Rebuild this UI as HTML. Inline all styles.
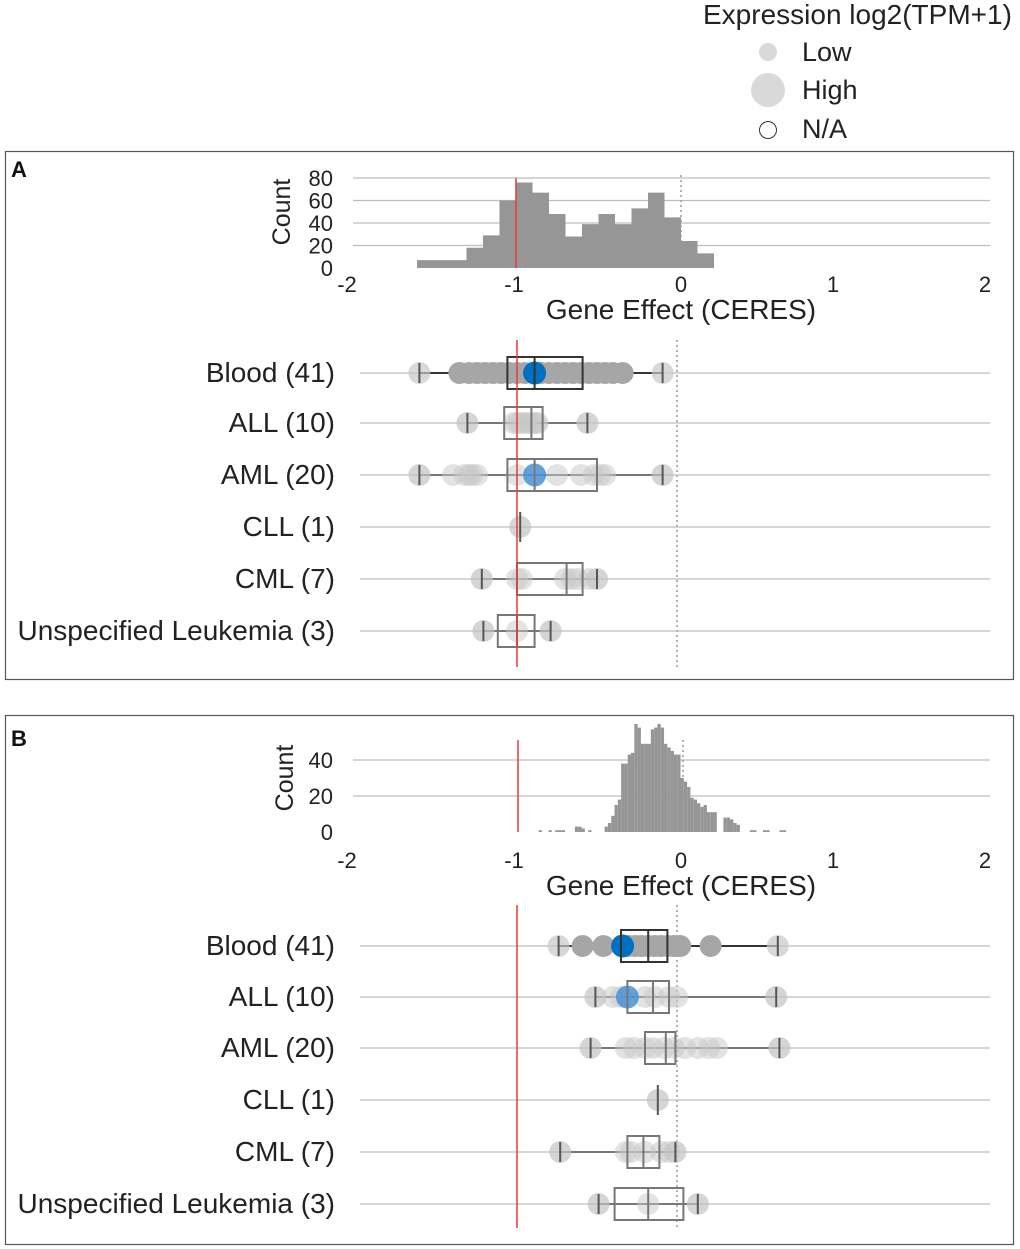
<!DOCTYPE html>
<html><head><meta charset="utf-8">
<style>
body{margin:0;background:#fff;}
svg{display:block;font-family:"Liberation Sans",Arial,sans-serif;}
</style></head>
<body>
<svg id="chart" width="1020" height="1249" viewBox="0 0 1020 1249" xmlns="http://www.w3.org/2000/svg">
  <g>
    <text x="703" y="24" font-size="28" fill="#222">Expression log2(TPM+1)</text>
    <circle cx="768" cy="52" r="9" fill="#d9d9d9"/>
    <text x="802" y="61" font-size="27" fill="#222">Low</text>
    <circle cx="768" cy="90" r="17" fill="#d9d9d9"/>
    <text x="802" y="99" font-size="27" fill="#222">High</text>
    <circle cx="768" cy="130" r="8.5" fill="#fff" stroke="#333" stroke-width="1"/>
    <text x="802" y="138" font-size="27" fill="#222">N/A</text>
  </g>
  <rect x="5.5" y="151.5" width="1008" height="528" fill="none" stroke="#555" stroke-width="1.2"/>
  <text x="11" y="177" font-size="22" font-weight="bold" fill="#111">A</text>
  <rect x="5.5" y="715.5" width="1008" height="529" fill="none" stroke="#555" stroke-width="1.2"/>
  <text x="11" y="746" font-size="22" font-weight="bold" fill="#111">B</text>
  <g id="pa"></g>
  <g id="pb"></g>
</svg>
<script>
// ---- shared ----
const rowLabels = ["Blood (41)","ALL (10)","AML (20)","CLL (1)","CML (7)","Unspecified Leukemia (3)"];
const xTicks = [-2,-1,0,1,2];
// ---- panel A data ----
const histA_start = -1.6, histA_width = 0.1;
const histA_counts = [7,7,7,18,29,60,76,67,48,28,39,48,39,53,67,45,24,13];
const yTicksA = [0,20,40,60,80];
const aMin = [-1.61,-1.31,-1.61,-0.98,-1.22,-1.21];
const aQ1  = [-1.06,-1.08,-1.06,-0.98,-1.0,-1.12];
const aMed = [-0.89,-0.91,-0.89,-0.98,-0.69,-1.0];
const aQ3  = [-0.59,-0.84,-0.5,-0.98,-0.59,-0.89];
const aMax = [-0.09,-0.56,-0.09,-0.98,-0.5,-0.79];
const aPts = [
 [-1.61,-1.36,-1.3,-1.25,-1.2,-1.15,-1.1,-1.05,-1.0,-0.95,-0.85,-0.8,-0.75,-0.7,-0.65,-0.6,-0.55,-0.5,-0.45,-0.4,-0.34,-0.09],
 [-1.31,-1.02,-1.0,-0.98,-0.95,-0.93,-0.9,-0.88,-0.87,-0.56],
 [-1.61,-1.4,-1.33,-1.3,-1.28,-1.25,-1.0,-0.75,-0.6,-0.52,-0.48,-0.45,-0.09],
 [-0.98],
 [-1.22,-1.0,-0.97,-0.7,-0.66,-0.62,-0.55,-0.5],
 [-1.21,-1.0,-0.79]];
const aHigh = [-0.89,null,-0.89,null,null,null];
// ---- panel B data ----
const histB_start = -0.875, histB_width = 0.02;
const histB_counts = [1,0,0,1,0,1,1,1,0,0,0,3,3,2,0,1,0,0,0,0,
 3,5,9,15,18,38,38,43,44,60,58,49,49,49,57,58,60,58,49,47,45,43,43,30,28,25,19,18,16,14,15,11,11,11,0,0,8,8,7,5,4,
 0,0,0,1,1,0,0,1,1,0,0,0,1,1];
const yTicksB = [0,20,40];
const bMin = [-0.74,-0.51,-0.54,-0.12,-0.73,-0.49];
const bQ1  = [-0.35,-0.31,-0.2,-0.12,-0.31,-0.39];
const bMed = [-0.18,-0.15,-0.07,-0.12,-0.21,-0.18];
const bQ3  = [-0.06,-0.05,-0.01,-0.12,-0.11,0.04];
const bMax = [0.63,0.62,0.64,-0.12,-0.01,0.13];
const bPts = [
 [-0.74,-0.59,-0.46,-0.3,-0.26,-0.22,-0.18,-0.14,-0.1,-0.06,-0.02,0.02,0.21,0.63],
 [-0.51,-0.4,-0.35,-0.2,-0.14,-0.05,0.0,0.62],
 [-0.54,-0.32,-0.27,-0.2,-0.15,-0.08,-0.02,0.05,0.13,0.2,0.25,0.64],
 [-0.12],
 [-0.73,-0.32,-0.29,-0.2,-0.1,-0.05,-0.01],
 [-0.49,-0.18,0.13]];
const bHigh = [-0.34,-0.31,null,null,null,null];

const NS="http://www.w3.org/2000/svg";
function mk(parent,tag,attrs){const e=document.createElementNS(NS,tag);for(const k in attrs)e.setAttribute(k,attrs[k]);parent.appendChild(e);return e;}
function x(v){return 677+160*v;}
function tickX(v){return v<=0?681+167*v:681+152*v;}

function drawPanel(g,cfg){
  const hx=cfg.hx;
  cfg.yTicks.forEach(t=>{
    const yy=cfg.hy(t);
    if(t>0){const l=mk(g,'line',{x1:353,x2:990,y1:yy,y2:yy,stroke:'#bdbdbd','stroke-width':1.3});
    
    }
    const tx=mk(g,'text',{x:333,y:yy+8,'font-size':22,'text-anchor':'end',fill:'#222'});tx.textContent=t;
    
    
  });
  cfg.counts.forEach((c,i)=>{
    if(c<=0)return;
    const v0=cfg.start+i*cfg.width;
    const x0=hx(v0),x1=hx(v0+cfg.width);
    const r=mk(g,'rect',{x:x0,y:cfg.hy(c),width:Math.max(x1-x0,0.5),height:cfg.hy(0)-cfg.hy(c),fill:'#969696'});
    
    
  });
  const yt=mk(g,'text',{x:0,y:0,'font-size':25,'text-anchor':'middle',fill:'#222',transform:`translate(${cfg.ctx},${cfg.cty}) rotate(-90)`});yt.textContent='Count';
  
  
  xTicks.forEach(t=>{
    const tx=mk(g,'text',{x:tickX(t),y:cfg.tickY,'font-size':22,'text-anchor':'middle',fill:'#222'});tx.textContent=t;
    
    
  });
  const xt=mk(g,'text',{x:681,y:cfg.tickY+27,'font-size':28,'text-anchor':'middle',fill:'#222'});xt.textContent='Gene Effect (CERES)';
  
  
  const d1=mk(g,'line',{x1:hx(0),x2:hx(0),y1:cfg.histTop,y2:cfg.hy(0),stroke:'#999','stroke-width':1.5,'stroke-dasharray':'2,3'});
  
  
  const d2=mk(g,'line',{x1:x(0),x2:x(0),y1:cfg.boxTop,y2:cfg.boxBot,stroke:'#999','stroke-width':1.5,'stroke-dasharray':'2,3'});
  
  
  rowLabels.forEach((lab,i)=>{
    const yy=cfg.rows[i];
    const gl=mk(g,'line',{x1:360,x2:990,y1:yy,y2:yy,stroke:'#bdbdbd','stroke-width':1.3});
    
    
    const t=mk(g,'text',{x:335,y:yy+9,'font-size':28,'text-anchor':'end',fill:'#222'});t.textContent=lab;
    
    
    const isBlood=i===0;
    const lc=isBlood?'#333':'#777';
    const pts=cfg.pts[i];
    const wl=mk(g,'line',{x1:x(cfg.min[i]),x2:x(cfg.max[i]),y1:yy,y2:yy,stroke:lc,'stroke-width':2});
    
    
    pts.forEach(p=>{
      const end=(p===cfg.min[i]||p===cfg.max[i]);
      const fill=isBlood?(end?'rgba(200,200,200,0.7)':'#a6a6a6'):(end?'rgba(195,195,195,0.7)':'rgba(200,200,200,0.5)');
      const c=mk(g,'circle',{cx:x(p),cy:yy,r:11,fill:fill});
      
      
    });
    if(cfg.high[i]!==null){
      const c=mk(g,'circle',{cx:x(cfg.high[i]),cy:yy,r:11.5,fill:isBlood?'#0070c0':'rgba(70,145,210,0.85)'});
      
      
    }
    if(cfg.min[i]!==cfg.max[i]){
      const b=mk(g,'rect',{x:x(cfg.q1[i]),y:yy-16,width:x(cfg.q3[i])-x(cfg.q1[i]),height:32,fill:'none',stroke:lc,'stroke-width':2});
      
      
      const m=mk(g,'line',{x1:x(cfg.med[i]),x2:x(cfg.med[i]),y1:yy-16,y2:yy+16,stroke:lc,'stroke-width':2});
      
      
      [cfg.min[i],cfg.max[i]].forEach(w=>{
        const cap=mk(g,'line',{x1:x(w),x2:x(w),y1:yy-10,y2:yy+10,stroke:'#555','stroke-width':2});
        
        
      });
    } else {
      const cap=mk(g,'line',{x1:x(cfg.med[i]),x2:x(cfg.med[i]),y1:yy-15,y2:yy+15,stroke:'#555','stroke-width':2});
      
      
    }
  });
  const r1=mk(g,'line',{x1:hx(-1),x2:hx(-1),y1:cfg.redHistTop,y2:cfg.hy(0),stroke:'#e8383a','stroke-width':1.5});
  
  
  const r2=mk(g,'line',{x1:x(-1),x2:x(-1),y1:cfg.boxTop,y2:cfg.boxBot,stroke:'#e8383a','stroke-width':1.5});
  
  
}
drawPanel(document.getElementById('pa'),{
  hx:v=>681+165*v,
  yTicks:yTicksA,hy:c=>268-c*1.125,counts:histA_counts,start:histA_start,width:histA_width,
  ctx:290,cty:212,tickY:292,histTop:175,redHistTop:178,boxTop:340,boxBot:667,
  rows:[373,423,475,527,579,631],min:aMin,q1:aQ1,med:aMed,q3:aQ3,max:aMax,pts:aPts,high:aHigh});
drawPanel(document.getElementById('pb'),{
  hx:v=>683+165*v,
  yTicks:yTicksB,hy:c=>832-c*1.8,counts:histB_counts,start:histB_start,width:histB_width,
  ctx:293,cty:778,tickY:868,histTop:740,redHistTop:740,boxTop:905,boxBot:1228,
  rows:[946,997,1048,1100,1152,1204],min:bMin,q1:bQ1,med:bMed,q3:bQ3,max:bMax,pts:bPts,high:bHigh});
</script>
</body></html>
